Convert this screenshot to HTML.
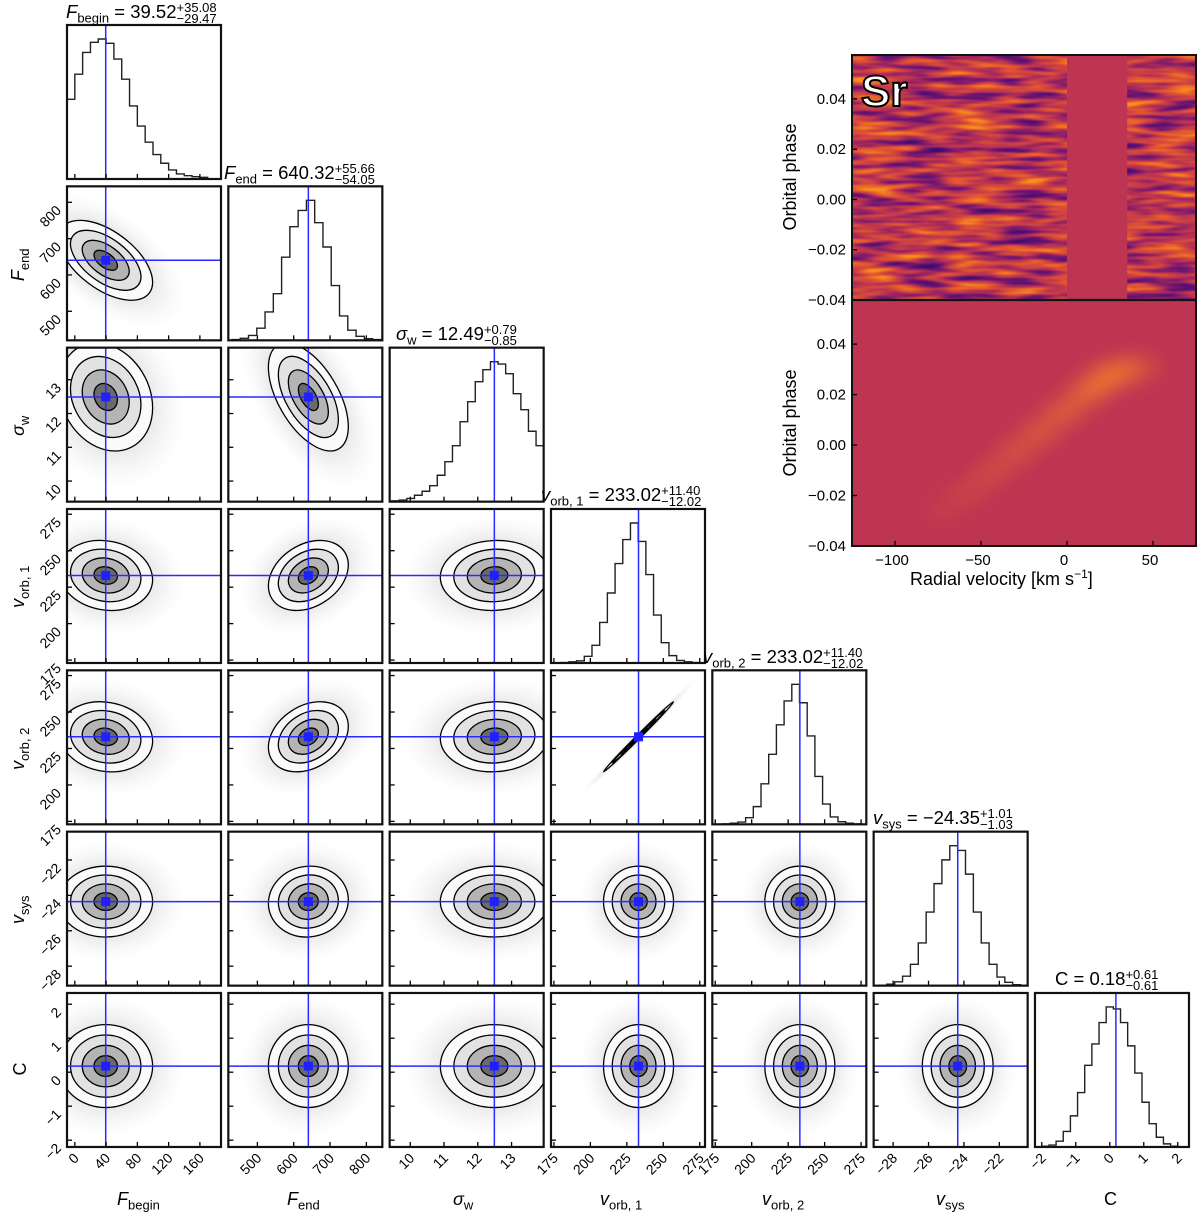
<!DOCTYPE html>
<html><head><meta charset="utf-8"><style>
body{margin:0;background:#fff;font-family:"Liberation Sans","DejaVu Sans",sans-serif;}
#wrap{position:relative;width:1200px;height:1216px;overflow:hidden;font-family:"Liberation Sans","DejaVu Sans",sans-serif;}
svg{position:absolute;left:0;top:0;}
.ttl{position:absolute;font-size:16px;white-space:nowrap;color:#000;line-height:1;font-family:"Liberation Sans","DejaVu Sans",sans-serif;}
.big{font-size:18.5px;}
.ss{display:inline-block;vertical-align:-5px;font-size:13px;line-height:11px;text-align:left;}
.ss span{display:block;}
.it{font-style:italic;}
sub{font-size:13px;}
</style></head><body>
<div id="wrap">
<svg id="fig" width="1200" height="1216" xmlns="http://www.w3.org/2000/svg" font-family="Liberation Sans, DejaVu Sans, sans-serif">
<defs>
<filter id="streaks" x="0" y="0" width="100%" height="100%" color-interpolation-filters="sRGB">
<feTurbulence type="fractalNoise" baseFrequency="0.02 0.13" numOctaves="2" seed="7"/>
<feColorMatrix type="matrix" values="1.6 0 0 0 -0.28  1.6 0 0 0 -0.28  1.6 0 0 0 -0.28  0 0 0 0 1"/>
<feComponentTransfer>
<feFuncR type="table" tableValues="0.24 0.46 0.73 0.89 0.97"/>
<feFuncG type="table" tableValues="0.05 0.09 0.2 0.34 0.56"/>
<feFuncB type="table" tableValues="0.44 0.44 0.32 0.19 0.12"/>
</feComponentTransfer>
</filter>
<filter id="blur8" color-interpolation-filters="sRGB"><feGaussianBlur stdDeviation="10"/></filter>
<radialGradient id="haze"><stop offset="0" stop-color="#aaa" stop-opacity="0.5"/><stop offset="0.6" stop-color="#c4c4c4" stop-opacity="0.35"/><stop offset="1" stop-color="#e0e0e0" stop-opacity="0"/></radialGradient>
<clipPath id="clipTop"><rect x="852" y="55" width="344" height="245"/></clipPath>
<clipPath id="clipBot"><rect x="852" y="300" width="344" height="246"/></clipPath>
</defs>
<g id="corner"></g>
<g id="rv"></g>
</svg>
</div>
<script>
// ---- corner data ----
const paramNames = ['F_begin','F_end','sigma_w','v_orb1','v_orb2','v_sys','C'];
const medians = [39.52, 640.32, 12.49, 233.02, 233.02, -24.35, 0.18];
const sigmas = [30, 55, 0.8, 12, 12, 1.0, 0.61];
const rangeLo = [-10, 420, 9.39, 173, 173, -29.1, -2.2];
const rangeHi = [187, 844, 13.95, 278.6, 278.6, -20.4, 2.33];
const tickVals = [[0,40,80,120,160],[500,600,700,800],[10,11,12,13],[175,200,225,250,275],[175,200,225,250,275],[-28,-26,-24,-22],[-2,-1,0,1,2]];
const histLo = [-10, 430, 9.45, 180, 180, -28.8, -2.0];
const histHi = [170, 840, 13.95, 275, 275, -20.8, 2.0];
const histF_begin = [238,313,378,408,418,405,358,298,218,158,110,73,47,27,15,10,7,5];
const histF_end = [2,5,12,30,70,115,205,280,320,345,290,230,135,60,25,10,4,2];
const histSigma = [1,2,4,8,13,20,33,50,70,100,125,150,165,175,172,160,135,115,88,70];
const histVorb1 = [1,3,6,18,48,110,190,270,335,380,330,240,130,55,20,7,3,1];
const histVorb2 = [1,3,6,18,48,110,190,270,335,380,330,240,130,55,20,7,3,1];
const histVsys = [1,3,8,20,45,90,155,215,265,295,285,235,155,90,45,18,7,2];
const histC = [2,5,15,40,80,140,210,265,320,360,355,320,260,190,115,60,25,8,2];
const histCounts = [histF_begin, histF_end, histSigma, histVorb1, histVorb2, histVsys, histC];
const corrKeys = ['0-1','0-2','1-2','0-3','1-3','2-3','0-4','1-4','2-4','3-4','1-5','0-5'];
const corrVals = [-0.55,-0.2,-0.55,-0.12,0.3,0.05,-0.12,0.3,0.05,0.997,0.05,0];
const contourLevels = [2, 1.5, 1, 0.5];
const levelFills = ['#fafafa','#e2e2e2','#b4b4b4','#6a6a6a'];

// ---- RV map data ----
const rvTicks = [-100,-50,0,50];
const phaseTicks = [-0.04,-0.02,0.00,0.02,0.04];
const trackRv = [-72,-58,-44,-30,-16,-2,12,24,34,44];
const trackPhase = [-0.026,-0.019,-0.011,-0.003,0.005,0.013,0.021,0.027,0.030,0.031];
const trackStrength = [0.15,0.25,0.35,0.45,0.55,0.65,0.8,0.95,0.7,0.3];
const maskRvLo = 0, maskRvHi = 35;

const NS='http://www.w3.org/2000/svg';
const PITCH=161.33, SZ=154, X0=67, Y0=25;
function mk(tag, attrs, parent){const e=document.createElementNS(NS,tag);for(const k in attrs)e.setAttribute(k,attrs[k]);parent.appendChild(e);return e;}
function L(i){return X0+i*PITCH;}
function T(j){return Y0+j*PITCH;}
function px(i,v){return L(i)+(v-rangeLo[i])/(rangeHi[i]-rangeLo[i])*SZ;}
function py(j,v){return T(j)+SZ-(v-rangeLo[j])/(rangeHi[j]-rangeLo[j])*SZ;}
function corrOf(i,j){const k=corrKeys.indexOf(i+'-'+j);return k<0?0:corrVals[k];}

const corner=document.getElementById('corner');
const defs=document.querySelector('defs');
const N=7;
for(let j=0;j<N;j++){
  for(let i=0;i<=j;i++){
    const g=mk('g',{},corner);
    
    
    const cp=mk('clipPath',{id:'cp'+i+'_'+j},defs);
    mk('rect',{x:L(i),y:T(j),width:SZ,height:SZ},cp);
    const inner=mk('g',{'clip-path':'url(#cp'+i+'_'+j+')'},g);
    if(i===j){
      const c=histCounts[i]; const n=c.length; const mx=Math.max(...c)*1.1;
      const bw=(histHi[i]-histLo[i])/n;
      const base=T(j)+SZ;
      let d='M'+px(i,histLo[i])+','+base;
      for(let k=0;k<n;k++){
        const y=base-c[k]/mx*SZ;
        d+=' L'+px(i,histLo[i]+k*bw)+','+y+' L'+px(i,histLo[i]+(k+1)*bw)+','+y;
      }
      d+=' L'+px(i,histHi[i])+','+base;
      const h=mk('path',{d:d,fill:'none',stroke:'#222','stroke-width':1.4},inner);
      
      
      const vl=mk('line',{x1:px(i,medians[i]),x2:px(i,medians[i]),y1:T(j),y2:T(j)+SZ,stroke:'#2a2aff','stroke-width':1.5},inner);
      
      
    } else {
      const cx=px(i,medians[i]), cy=py(j,medians[j]);
      const a=sigmas[i]*SZ/(rangeHi[i]-rangeLo[i]);
      const b=sigmas[j]*SZ/(rangeHi[j]-rangeLo[j]);
      const r=corrOf(i,j);
      const cxy=-r*a*b;
      const t=(a*a+b*b)/2, dd=Math.sqrt(Math.pow((a*a-b*b)/2,2)+cxy*cxy);
      const l1=Math.sqrt(t+dd), l2=Math.sqrt(Math.max(t-dd,0.3));
      const ang=0.5*Math.atan2(2*cxy,a*a-b*b)*180/Math.PI;
      const tr='rotate('+ang+' '+cx+' '+cy+')';
      const hz=mk('ellipse',{cx:cx,cy:cy,rx:3.4*l1,ry:3.4*Math.max(l2,1.5),fill:'url(#haze)',transform:tr},inner);
      
      
      contourLevels.forEach((k,idx)=>{
        const e=mk('ellipse',{cx:cx,cy:cy,rx:k*l1,ry:Math.max(k*l2,0.6),fill:levelFills[idx],stroke:'#000','stroke-width':1.3,transform:tr},inner);
        
        
      });
      const hl=mk('line',{x1:L(i),x2:L(i)+SZ,y1:cy,y2:cy,stroke:'#2a2aff','stroke-width':1.5},inner);
      
      
      const vl=mk('line',{x1:cx,x2:cx,y1:T(j),y2:T(j)+SZ,stroke:'#2a2aff','stroke-width':1.5},inner);
      
      
      const mkr=mk('rect',{x:cx-4.5,y:cy-4.5,width:9,height:9,fill:'#2020ff'},inner);
      
      
      tickVals[j].forEach(v=>{const y=py(j,v);if(y>=T(j)&&y<=T(j)+SZ)mk('line',{x1:L(i),x2:L(i)+5,y1:y,y2:y,stroke:'#000','stroke-width':1.3},g);});
    }
    tickVals[i].forEach(v=>{const x=px(i,v);if(x>=L(i)&&x<=L(i)+SZ)mk('line',{x1:x,x2:x,y1:T(j)+SZ,y2:T(j)+SZ-5,stroke:'#000','stroke-width':1.3},g);});
    const fr=mk('rect',{x:L(i),y:T(j),width:SZ,height:SZ,fill:'none',stroke:'#111','stroke-width':2.2},g);
    
    
  }
}
for(let i=0;i<N;i++){
  tickVals[i].forEach(v=>{
    const x=px(i,v);
    const t=mk('text',{x:x+5,y:T(6)+SZ+12,'text-anchor':'end','font-size':14,transform:'rotate(-45 '+(x+5)+' '+(T(6)+SZ+12)+')'},corner);
    t.textContent=String(v).replace('-','\u2212');
    
    
  });
}
for(let j=1;j<N;j++){
  tickVals[j].forEach(v=>{
    const y=py(j,v);
    const t=mk('text',{x:L(0)-5,y:y+9,'text-anchor':'end','font-size':14,transform:'rotate(-45 '+(L(0)-5)+' '+(y+9)+')'},corner);
    t.textContent=String(v).replace('-','\u2212');
    
    
  });
}

// ---- RV maps ----
const rvg=document.getElementById('rv');
const RX0=852,RX1=1196,TY0=55,TY1=300,BY0=300,BY1=546;
const RVLO=-125,RVHI=75,PHLO=-0.04,PHHI=0.0575;
function rx(v){return RX0+(v-RVLO)/(RVHI-RVLO)*(RX1-RX0);}
function ryT(p){return TY1-(p-PHLO)/(PHHI-PHLO)*(TY1-TY0);}
function ryB(p){return BY1-(p-PHLO)/(PHHI-PHLO)*(BY1-BY0);}
const topMap=mk('g',{'clip-path':'url(#clipTop)'},rvg);


mk('rect',{x:RX0,y:TY0,width:RX1-RX0,height:TY1-TY0,filter:'url(#streaks)'},topMap);
const mask=mk('rect',{x:rx(maskRvLo),y:TY0,width:rx(maskRvHi)-rx(maskRvLo),height:TY1-TY0,fill:'#bd3552'},topMap);


const botMap=mk('g',{'clip-path':'url(#clipBot)'},rvg);


mk('rect',{x:RX0,y:BY0,width:RX1-RX0,height:BY1-BY0,fill:'#bd3552'},botMap);
const blobs=mk('g',{filter:'url(#blur8)'},botMap);
trackRv.forEach((v,k)=>{
  const b=mk('ellipse',{cx:rx(v),cy:ryB(trackPhase[k]),rx:20,ry:11,fill:'#f47a2c','fill-opacity':trackStrength[k]},blobs);
  
  
});
rvTicks.forEach(v=>{
  mk('line',{x1:rx(v),x2:rx(v),y1:BY1,y2:BY1-5,stroke:'#000','stroke-width':1.3},rvg);
  const t=mk('text',{x:rx(v)-3,y:BY1+19,'text-anchor':'middle','font-size':15},rvg);
  t.textContent=String(v).replace('-','\u2212');
  
  
});
[[ryT,'top'],[ryB,'bottom']].forEach(([f,nm])=>{
  phaseTicks.forEach(p=>{
    const y=f(p);
    mk('line',{x1:RX0,x2:RX0+5,y1:y,y2:y,stroke:'#000','stroke-width':1.3},rvg);
    const t=mk('text',{x:RX0-6,y:y+5,'text-anchor':'end','font-size':15},rvg);
    t.textContent=p.toFixed(2).replace('-','\u2212');
    
    
  });
});
const f1=mk('rect',{x:RX0,y:TY0,width:RX1-RX0,height:BY1-TY0,fill:'none',stroke:'#111','stroke-width':2},rvg);


const sep=mk('line',{x1:RX0,x2:RX1,y1:TY1,y2:TY1,stroke:'#111','stroke-width':2.2},rvg);


</script>

<div class="ttl big" style="left:66px;top:2px"><span class="it">F</span><sub>begin</sub> = 39.52<span class="ss"><span>+35.08</span><span>&minus;29.47</span></span></div>
<div class="ttl big" style="left:224px;top:163px"><span class="it">F</span><sub>end</sub> = 640.32<span class="ss"><span>+55.66</span><span>&minus;54.05</span></span></div>
<div class="ttl big" style="left:396px;top:324px"><span class="it">σ</span><sub>w</sub> = 12.49<span class="ss"><span>+0.79</span><span>&minus;0.85</span></span></div>
<div class="ttl big" style="left:541px;top:485px"><span class="it">v</span><sub>orb, 1</sub> = 233.02<span class="ss"><span>+11.40</span><span>&minus;12.02</span></span></div>
<div class="ttl big" style="left:703px;top:647px"><span class="it">v</span><sub>orb, 2</sub> = 233.02<span class="ss"><span>+11.40</span><span>&minus;12.02</span></span></div>
<div class="ttl big" style="left:873px;top:808px"><span class="it">v</span><sub>sys</sub> = &minus;24.35<span class="ss"><span>+1.01</span><span>&minus;1.03</span></span></div>
<div class="ttl big" style="left:1055px;top:969px">C = 0.18<span class="ss"><span>+0.61</span><span>&minus;0.61</span></span></div>

<div class="ttl" style="left:117px;top:1190px;font-size:18px"><span class="it">F</span><sub style="font-size:13px">begin</sub></div>
<div class="ttl" style="left:287px;top:1190px;font-size:18px"><span class="it">F</span><sub style="font-size:13px">end</sub></div>
<div class="ttl" style="left:453px;top:1190px;font-size:18px"><span class="it">σ</span><sub style="font-size:13px">w</sub></div>
<div class="ttl" style="left:600px;top:1190px;font-size:18px"><span class="it">v</span><sub style="font-size:13px">orb, 1</sub></div>
<div class="ttl" style="left:762px;top:1190px;font-size:18px"><span class="it">v</span><sub style="font-size:13px">orb, 2</sub></div>
<div class="ttl" style="left:936px;top:1190px;font-size:18px"><span class="it">v</span><sub style="font-size:13px">sys</sub></div>
<div class="ttl" style="left:1104px;top:1190px;font-size:18px">C</div>

<div class="ttl" style="left:-10px;top:254px;width:60px;text-align:center;font-size:18px;transform:rotate(-90deg)"><span class="it">F</span><sub style="font-size:13px">end</sub></div>
<div class="ttl" style="left:-10px;top:415px;width:60px;text-align:center;font-size:18px;transform:rotate(-90deg)"><span class="it">σ</span><sub style="font-size:13px">w</sub></div>
<div class="ttl" style="left:-20px;top:576px;width:80px;text-align:center;font-size:18px;transform:rotate(-90deg)"><span class="it">v</span><sub style="font-size:13px">orb, 1</sub></div>
<div class="ttl" style="left:-20px;top:738px;width:80px;text-align:center;font-size:18px;transform:rotate(-90deg)"><span class="it">v</span><sub style="font-size:13px">orb, 2</sub></div>
<div class="ttl" style="left:-10px;top:899px;width:60px;text-align:center;font-size:18px;transform:rotate(-90deg)"><span class="it">v</span><sub style="font-size:13px">sys</sub></div>
<div class="ttl" style="left:-10px;top:1060px;width:60px;text-align:center;font-size:18px;transform:rotate(-90deg)">C</div>

<div class="ttl" style="left:700px;top:168px;width:180px;text-align:center;font-size:18px;transform:rotate(-90deg)">Orbital phase</div>
<div class="ttl" style="left:700px;top:414px;width:180px;text-align:center;font-size:18px;transform:rotate(-90deg)">Orbital phase</div>
<div class="ttl" style="left:910px;top:568px;font-size:18px">Radial velocity [km s<sup style="font-size:12px">&minus;1</sup>]</div>
<div class="ttl" style="left:861px;top:70px;font-size:44px;font-weight:bold;color:#fff;-webkit-text-stroke:2px #000">Sr</div>
</body></html>
